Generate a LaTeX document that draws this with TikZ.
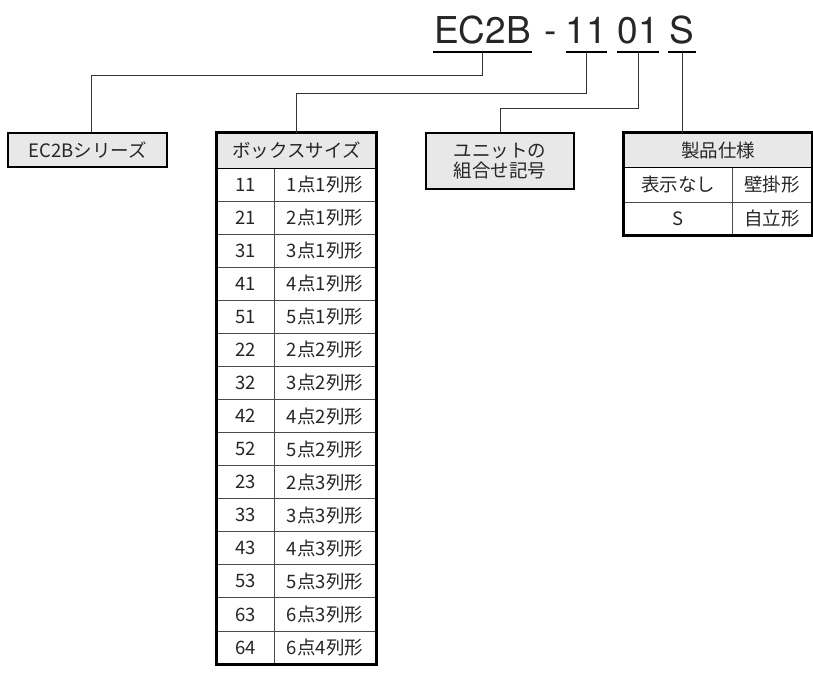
\documentclass[tikz,border=0pt]{standalone}
\usepackage{fontspec}
\setmainfont{Noto Sans CJK JP}
\newfontfamily\codefont{TeX Gyre Heros}
\usetikzlibrary{positioning}

\tikzset{
  hd/.style={draw=black!70, line width=0.9pt, fill=black!9, inner sep=0pt},
  cell/.style={draw=black!70, line width=0.9pt, inner sep=0pt},
  tblframe/.style={draw=black, line width=2.2pt},
  box/.style={draw=black, line width=2.2pt, fill=black!9, inner sep=0pt, align=center},
  part/.style={font=\codefont\fontsize{37}{40}\selectfont, inner sep=0pt, anchor=base},
  uline/.style={line width=1.8pt},
  lead/.style={line width=0.9pt, black!80},
}

\begin{document}
\begin{tikzpicture}[x=1pt, y=-1pt, font=\fontsize{18.5}{20}\selectfont, text=black!85]
\useasboundingbox (0,0) rectangle (813,672);

% model code
\node[part, minimum width=99] (ec2b) at (482.5,43) {EC2B};
\node[part] (dash) at (550.5,43) {-};
\node[part, minimum width=33] (nA) at (586.5,43) {11};
\node[part, minimum width=38] (nB) at (638,43) {01};
\node[part, minimum width=28] (sfx) at (682,43) {S};
\foreach \p in {ec2b,nA,nB,sfx} {
  \draw[uline] ([yshift=-9pt]\p.base west) -- ([yshift=-9pt]\p.base east);
  \coordinate (\p-u) at ([yshift=-9pt]\p.base);
}

% series
\node[box, minimum width=159, minimum height=34] (series) at (87.5,150) {EC2Bシリーズ};

% box size table
\node[hd, minimum width=159, minimum height=35] (bxhd) at (296.5,150.5) {ボックスサイズ};
\foreach \c/\n [count=\i] in {11/1点1列形, 21/2点1列形, 31/3点1列形, 41/4点1列形, 51/5点1列形,
    22/2点2列形, 32/3点2列形, 42/4点2列形, 52/5点2列形, 23/2点3列形, 33/3点3列形,
    43/4点3列形, 53/5点3列形, 63/6点3列形, 64/6点4列形} {
  \node[cell, minimum width=57, minimum height=33.07] (bc\i) at (245.5,{168+33.07*\i-16.53}) {\c};
  \node[cell, minimum width=102, minimum height=33.07] (bn\i) at (325,{168+33.07*\i-16.53}) {\n};
}
\draw[line width=1.6pt] (bxhd.south west) -- (bxhd.south east);
\draw[tblframe] (bxhd.north west) rectangle (bn15.south east);

% unit code
\node[box, minimum width=148, minimum height=56] (unit) at (500,161) {ユニットの\\組合せ記号};

% spec table
\node[hd, minimum width=188, minimum height=34] (sphd) at (718,150) {製品仕様};
\node[cell, minimum width=108, minimum height=35] (sa1) at (678,184.5) {表示なし};
\node[cell, minimum width=80, minimum height=35] (sb1) at (772,184.5) {壁掛形};
\node[cell, minimum width=108, minimum height=33] (sa2) at (678,218.5) {S};
\node[cell, minimum width=80, minimum height=33] (sb2) at (772,218.5) {自立形};
\draw[line width=1.6pt] (sphd.south west) -- (sphd.south east);
\draw[tblframe] (sphd.north west) rectangle (sb2.south east);

% leaders
\draw[lead] (ec2b-u) -- (ec2b-u |- 0,75) -| ([xshift=4pt]series.north);
\draw[lead] (nA-u) -- (nA-u |- 0,93) -| (bxhd.north);
\draw[lead] (nB-u) -- (nB-u |- 0,108) -| (unit.north);
\draw[lead] (sfx-u) -- (sfx-u |- sphd.north);
\end{tikzpicture}
\end{document}
